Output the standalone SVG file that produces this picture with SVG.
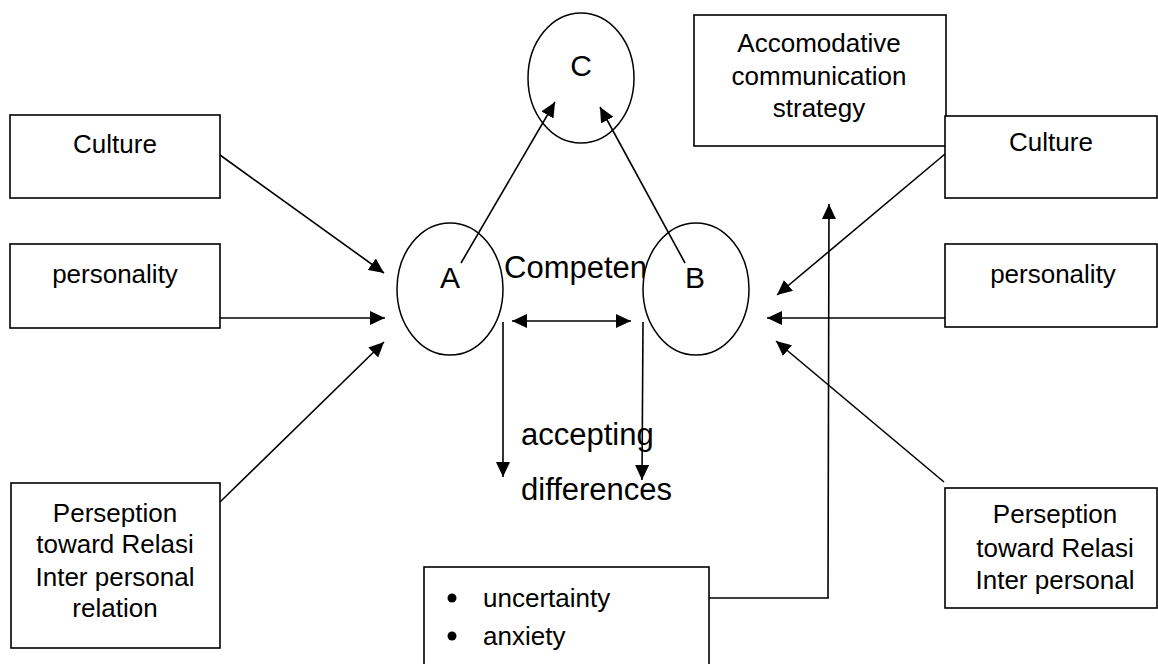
<svg xmlns="http://www.w3.org/2000/svg" width="1158" height="664" viewBox="0 0 1158 664">
<style>
.box{fill:#fff;stroke:#000;stroke-width:1.6}
.ell{fill:#fff;stroke:#000;stroke-width:1.5}
.t{font-family:"Liberation Sans",Arial,sans-serif;font-size:26px;fill:#000;text-anchor:middle}
.ts{font-family:"Liberation Sans",Arial,sans-serif;font-size:26px;fill:#000;text-anchor:start}
.big{font-family:"Liberation Sans",Arial,sans-serif;font-size:31px;fill:#000}
.mid{text-anchor:middle;font-size:30px}
.c{stroke:#000;stroke-width:1.6;fill:none}
</style>
<defs>
<marker id="ah" markerUnits="userSpaceOnUse" markerWidth="16" markerHeight="14" refX="15" refY="7" orient="auto-start-reverse">
<path d="M0,0 L15,7 L0,14 z" fill="#000"/>
</marker>
</defs>
<rect width="1158" height="664" fill="#fff"/>
<text class="big" x="504" y="278">Competen</text>
<g id="node-culture-left"><rect class="box" x="10" y="115" width="210" height="83"/><text class="t" x="115" y="153">Culture</text></g>
<g id="node-personality-left"><rect class="box" x="10" y="244" width="210" height="84"/><text class="t" x="115" y="283">personality</text></g>
<g id="node-perseption-left"><rect class="box" x="11" y="483" width="209" height="165"/><text class="t" x="115" y="522">Perseption</text><text class="t" x="115" y="553">toward Relasi</text><text class="t" x="115" y="586">Inter personal</text><text class="t" x="115" y="617">relation</text></g>
<g id="node-C"><ellipse class="ell" cx="581" cy="78" rx="53" ry="65"/><text class="big mid" x="581" y="76">C</text></g>
<g id="node-A"><ellipse class="ell" cx="450" cy="289" rx="53" ry="66"/><text class="big mid" x="450" y="288">A</text></g>
<g id="node-B"><ellipse class="ell" cx="696" cy="289" rx="53" ry="66"/><text class="big mid" x="695" y="288">B</text></g>
<g id="node-accomodative"><rect class="box" x="694" y="15" width="252" height="131"/><text class="t" x="819" y="52">Accomodative</text><text class="t" x="819" y="85">communication</text><text class="t" x="819" y="117">strategy</text></g>
<g id="node-culture-right"><rect class="box" x="945" y="116" width="212" height="82"/><text class="t" x="1051" y="151">Culture</text></g>
<g id="node-personality-right"><rect class="box" x="945" y="244" width="212" height="83"/><text class="t" x="1053" y="283">personality</text></g>
<g id="node-perseption-right"><rect class="box" x="945" y="488" width="212" height="120"/><text class="t" x="1055" y="523">Perseption</text><text class="t" x="1055" y="557">toward Relasi</text><text class="t" x="1055" y="589">Inter personal</text></g>
<g id="node-accepting"><text class="big" x="521" y="445">accepting</text><text class="big" x="521" y="500">differences</text></g>
<g id="node-uncertainty"><rect class="box" x="424" y="567" width="285" height="110"/><circle cx="452" cy="598" r="4.5" fill="#000"/><circle cx="452" cy="636" r="4.5" fill="#000"/><text class="ts" x="483" y="607">uncertainty</text><text class="ts" x="483" y="645">anxiety</text></g>
<g id="connectors">
<line class="c" x1="220" y1="155" x2="384" y2="273" marker-end="url(#ah)"/>
<line class="c" x1="220" y1="318" x2="385" y2="318" marker-end="url(#ah)"/>
<line class="c" x1="220" y1="502" x2="384" y2="342" marker-end="url(#ah)"/>
<line class="c" x1="461" y1="263" x2="555" y2="102" marker-end="url(#ah)"/>
<line class="c" x1="685" y1="263" x2="600" y2="107" marker-end="url(#ah)"/>
<line class="c" x1="512" y1="321" x2="631" y2="321" marker-start="url(#ah)" marker-end="url(#ah)"/>
<line class="c" x1="503" y1="322" x2="503" y2="477" marker-end="url(#ah)"/>
<line class="c" x1="643" y1="322" x2="642" y2="480" marker-end="url(#ah)"/>
<line class="c" x1="945" y1="154" x2="777" y2="295" marker-end="url(#ah)"/>
<line class="c" x1="945" y1="318" x2="767" y2="318" marker-end="url(#ah)"/>
<line class="c" x1="944" y1="482" x2="776" y2="341" marker-end="url(#ah)"/>
<polyline class="c" points="709,598 828,598 829,204" marker-end="url(#ah)"/>
</g>
</svg>
